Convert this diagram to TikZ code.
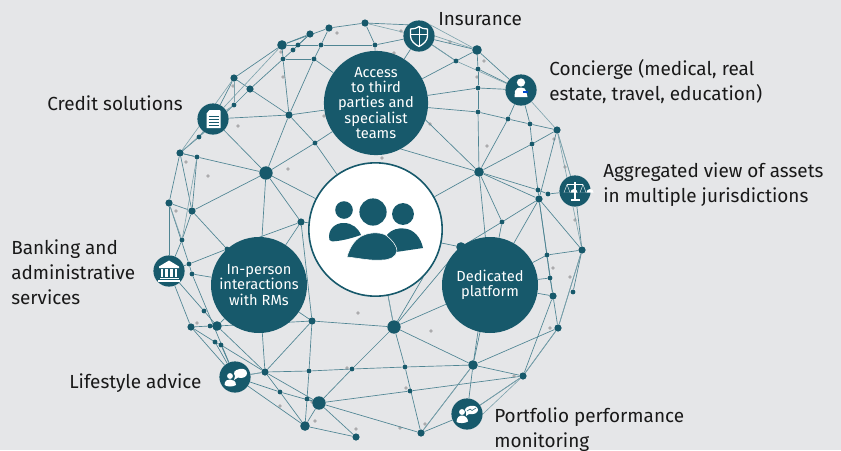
\documentclass[tikz,border=0pt]{standalone}
\usepackage{fontspec}
\setmainfont{Fira Sans}
\usetikzlibrary{backgrounds}
\definecolor{teal}{HTML}{17596B}
\definecolor{bgc}{HTML}{E5E6E8}
\definecolor{linkc}{HTML}{4F8593}
\definecolor{grayd}{HTML}{ABABAD}
\tikzset{
  x=0.75pt,y=-0.75pt,
  dotS/.style={circle,fill=teal,inner sep=0,minimum size=3.6pt},
  dotM/.style={circle,fill=teal,inner sep=0,minimum size=5.4pt},
  dotL/.style={circle,fill=teal,inner sep=0,minimum size=7.2pt},
  dotX/.style={circle,fill=teal,inner sep=0,minimum size=10pt},
  hub/.style={circle,fill=teal,text=white,inner sep=0,minimum size=72pt,align=center,font=\fontsize{11}{11.6}\selectfont},
  iconbg/.style={circle,fill=teal,inner sep=0,minimum size=23.4pt},
  link/.style={draw=linkc,line width=0.5pt},
  linkl/.style={draw=linkc!70!bgc,line width=0.45pt},
  lbl/.style={text=black!90,anchor=west,align=left,inner sep=0,font=\fontsize{14.2}{18.8}\selectfont},
  wln/.style={draw=white,line width=0.7pt},
}
\begin{document}
\begin{tikzpicture}
\useasboundingbox (0,0) rectangle (841,450);
% big circles and icons
\node[circle,fill=white,draw=teal,line width=1.2pt,inner sep=0,minimum size=100pt] (center) at (375.5,229.5) {};
\node[hub] (access) at (376,103) {Access\\to third\\parties and\\specialist\\teams};
\node[hub] (person) at (259,285) {In-person\\interactions\\with RMs};
\node[hub] (platform) at (490,285) {Dedicated\\platform};
\node[iconbg] (ins) at (419,36) {};
\node[iconbg] (cred) at (213,119) {};
\node[iconbg] (conc) at (521,90) {};
\node[iconbg] (scal) at (575,191) {};
\node[iconbg] (bank) at (169,271) {};
\node[iconbg] (life) at (235,377) {};
\node[iconbg] (port) at (467,414) {};
% dots
\foreach \n/\x/\y in {a1/310/34,a3/329/28,a4/365/23,a11/234/78,a12/250/89,a15/289/115,a17/180/153,a21/169/203,a22/192,211,a23/301/222}{}
\foreach \n/\x/\y in {a5/298/45,a6/321/45,a7/375/45,a8/293/50,a9/283/59,a10/314/59,a14/234/105,a16/199/137,a18/197/157,a19/315/143,
  b2/456/61,b3/478/69,b4/478/88,b5/478/112,b6/508/119,b7/530/124,b9/532/144,b11/538/190,b12/548/194,b14/502/222,
  c1/182/240,c2/227/249,c3/189/264,c4/192/274,c5/204/311,c7/210/326,c11/215/342,c12/221/345,c14/309/371,c15/352/369,c16/405/367,c17/280/392,c18/307/399,c20/410/391,
  d3/547/255,d4/550/278,d6/573/292}
  {\node[dotS] (\n) at (\x,\y) {};}
\foreach \n/\x/\y in {a1/310/34,a3/329/28,a11/234/78,a12/250/89,a21/169/203,a22/192/211,a23/301/222,a15/289/115,a17/180/153,
  b8/557/130,b13/539/199,c6/191/327,c9/312/321,c13/265/372,c22/356/437,c23/421/433,d2/582/250,d5/553/296,d7/558/328,d9/523/376,a4/365/23}
  {\node[dotM] (\n) at (\x,\y) {};}
\foreach \n/\x/\y in {a2/282/45,b1/477/50,b10/479/172,c8/217/326,c21/305/426,d1/461/247,d8/473/365}
  {\node[dotL] (\n) at (\x,\y) {};}
\foreach \n/\x/\y in {a20/266/173,c10/394/327,c19/319/403}
  {\node[dotX] (\n) at (\x,\y) {};}
% helper coordinates behind the big circles
\coordinate (acL) at (350,110);
\coordinate (acB) at (360,137);
\coordinate (acR) at (400,95);
\coordinate (acB2) at (405,90);
\coordinate (ceT) at (375,180);
\coordinate (peT) at (262,270);
\coordinate (peB) at (262,300);
\coordinate (plB) at (482,305);
\coordinate (plB2) at (490,300);
\begin{pgfonlayer}{background}
\fill[bgc] (0,0) rectangle (841,450);
% gray specks
\foreach \x/\y in {337/33,401/31,394/53,281/52,283/77,233/86,238/126,324/116,186/162,208/176,288/169,176/211,382/158,450/42,484/61,477/77,430/124,487/146,554/139,565/167,575/220,553/268,570/277,197/323,358/313,347/368,406/388,280/406,312/402,315/421,356/429,400/428,425/424,431/331,550/328,514/376}
  \fill[grayd] (\x,\y) circle (1.4pt);
% links
\foreach \p/\q in {a2/a1,a2/a5,a5/a1,a2/a6,a6/a7,a7/ins,a8/a1,a9/a8,a8/a5,a3/a6,a6/a10,a10/a15,a3/a4,a3/a2,a4/a7,a7/access,a2/a9,a9/a15,a9/a10,a10/access,a2/a11,a11/cred,a11/a12,a12/a15,a12/a9,a12/a14,a14/a16,a15/cred,a15/access,a15/a19,a15/a20,a19/a20,a19/access,a19/center,a20/center,a20/cred,a20/a18,a18/a17,a20/a22,a20/a23,a20/person,a17/a18,a18/a22,a17/a22,a17/a21,a21/a22,a21/bank,a21/c3,a22/c1,c1/bank,a22/c2,a23/c2,a23/person,a23/center,a23/c9,c2/c3,c3/c4,c3/bank,c4/person,cred/a16,a16/a17,
  ins/access,ins/b1,ins/b2,b1/b2,b2/access,b1/b3,b3/b4,b4/b5,b5/b10,b3/conc,b4/conc,b4/access,b1/conc,conc/b6,conc/b7,access/b5,b5/b6,b6/b7,b7/b8,b6/b10,b8/b9,b9/b10,b7/b9,b9/b13,b8/b13,b10/b11,b11/b12,b12/scal,b10/b13,b10/center,b10/acB,b10/acR,b10/platform,b10/b14,b13/b14,b14/d1,b14/platform,b13/platform,b13/d3,d3/d2,d3/platform,scal/d2,b13/d2,b13/d4,d2/d6,d2/d7,d3/d5,d4/d5,d4/platform,d5/d7,d5/platform,d5/d9,d7/d8,d7/d9,d8/d9,d8/port,d8/c23,d8/c10,d8/platform,d8/plB,d1/center,d1/c10,c10/platform,c10/c15,c15/c19,c10/c9,c10/center,c10/c16,c16/c23,c16/d8,c20/d9,c19/c20,d9/port,c23/port,
  c9/c8,c9/c13,c9/c14,c9/person,c14/c15,c15/c16,c13/c14,c19/c17,c17/life,c14/c18,c18/c21,c13/c17,c17/c21,c18/c19,c19/c21,c19/c22,c19/c23,c21/c22,life/c21,life/c13,c13/c19,c13/person,c8/c13,c6/c7,c7/c8,c6/c11,c11/c12,c12/c13,c6/life,c11/life,c12/life,bank/c5,c5/c8,bank/c6,c4/life,c8/person}
  \draw[link] (\p) -- (\q);
\foreach \p/\q in {a2/cred,a17/a11,a11/a14,a14/cred,a17/a14,a4/ins,ins/b2,b2/conc,conc/b8,b8/scal,b8/d2,d2/d7,d7/d9,d9/port,scal/b8,c23/d8,c10/center,c13/life,a21/c1,a18/c1}
  \draw[linkl] (\p) -- (\q);
\draw[link] (a4) -- (ins.north west);
\draw[linkl] (b1) -- (ins.north east);
\draw[linkl] (b1) -- (ins.east);
\draw[linkl] (d9) -- (port.east);
\draw[link] (center.south east) -- (c10);
\end{pgfonlayer}
% central people icon
\fill[teal] (344,210) circle (6.6pt);
\fill[teal] (373,212) circle (10.2pt);
\fill[teal] (403,214) circle (8.2pt);
\fill[teal] (329.5,240) .. controls (327,230) and (335,222.5) .. (344,223) .. controls (352,223) and (358,228) .. (361,235) .. controls (352,238) and (345,240) .. (337,241) .. controls (333,241.5) and (330,241.5) .. (329.5,240) -- cycle;
\fill[teal] (387,235) .. controls (392,229) and (398,228) .. (404,228.5) .. controls (414,229) and (421,238) .. (423,248) -- (396,252) -- cycle;
\filldraw[fill=teal,draw=white,line width=0.4pt] (347,257) .. controls (350,246) and (356,238) .. (364,235) .. controls (371,232) and (382,232) .. (387,236) .. controls (392,240) and (397,246) .. (397,251) .. controls (396,257) and (390,260) .. (382,260) .. controls (370,261) and (358,258) .. (347,257) -- cycle;
% shield
\begin{scope}[shift={(419,36)}]
\draw[white,line width=0.95pt,line join=round] (0,-9.5) .. controls (3,-7.5) and (6,-7) .. (8.5,-7) -- (8.5,0) .. controls (8.5,5) and (4,8.5) .. (0,10.5) .. controls (-4,8.5) and (-8.5,5) .. (-8.5,0) -- (-8.5,-7) .. controls (-6,-7) and (-3,-7.5) .. cycle;
\draw[white,line width=0.6pt] (-8,-1.5) -- (8,-1.5) (0,-9) -- (0,10);
\end{scope}
% document
\begin{scope}[shift={(213,119)}]
\fill[white] (-3.5,-9) -- (6.5,-9) -- (7.5,-8) -- (7.5,9) -- (-6.5,9) -- (-6.5,-5.5) -- cycle;
\foreach \yy in {-3,0,3,6} \draw[teal,line width=0.5pt] (-4.5,\yy) -- (5.5,\yy);
\end{scope}
% person
\begin{scope}[shift={(521,90)}]
\fill[white] (0,-7.5) circle (3.1pt);
\fill[white] (-6.5,7) -- (-6,1) .. controls (-5.5,-2) and (-2,-2.5) .. (0,-2.5) .. controls (3,-2.5) and (5,-1) .. (5,1) -- (6.5,7) -- cycle;
\fill[blue!65!cyan!80!black] (2,0.8) rectangle (7,3);
\end{scope}
% scales
\begin{scope}[shift={(575,191)}]
\draw[white,line width=0.8pt] (0,-9) -- (0,8) (-4.5,9) -- (4.5,9) (-8,-6.5) -- (8,-6.5);
\draw[white,line width=0.3pt] (-8,-6.5) -- (-11,1.5) (-8,-6.5) -- (-5,1.5) (8,-6.5) -- (5,1.5) (8,-6.5) -- (11,1.5);
\fill[white] (-11.5,1.5) -- (-4.5,1.5) arc (0:180:-3.5 and -3.5) -- cycle;
\fill[white] (4.5,1.5) -- (11.5,1.5) arc (0:180:-3.5 and -3.5) -- cycle;
\end{scope}
% bank
\begin{scope}[shift={(169,271)}]
\fill[white] (0,-10.5) -- (10,-4.5) -- (10,-3) -- (-10,-3) -- (-10,-4.5) -- cycle;
\foreach \xx in {-7,-2.5,2.5,7} \fill[white] (\xx-1.2,-2) rectangle (\xx+1.2,6);
\fill[white] (-9.5,6.5) rectangle (9.5,8);
\fill[white] (-11,9) rectangle (11,10.5);
\end{scope}
% lifestyle
\begin{scope}[shift={(235,377)}]
\fill[white] (-5,-1) circle (2.2pt);
\fill[white] (-10.5,8) .. controls (-10.5,3) and (-7,2.5) .. (-5,2.5) .. controls (-2,2.5) and (1,4) .. (1,8) .. controls (-2,10) and (-8,10) .. (-10.5,8) -- cycle;
\fill[white] (4.5,-8) .. controls (9,-9) and (12,-7) .. (12,-3.5) .. controls (12,0) and (7,2) .. (3,0.5) -- (-1,3) -- (0,-1) .. controls (-2,-4) and (-1,-7) .. (4.5,-8) -- cycle;
\end{scope}
% portfolio
\begin{scope}[shift={(467,414)}]
\fill[white] (-5,-2) circle (2.2pt);
\fill[white] (-10.5,8) .. controls (-10.5,3) and (-7,1.5) .. (-5,1.5) .. controls (-2,1.5) and (1,4) .. (1,7.5) .. controls (-2,9.5) and (-8,9.5) .. (-10.5,8) -- cycle;
\fill[white] (3,-8) .. controls (8,-9) and (11,-7) .. (11,-4) .. controls (11,-1) and (6,1) .. (2,0) -- (-1,2) -- (-1,-2) .. controls (-3,-4) and (-2,-7) .. (3,-8) -- cycle;
\draw[teal,line width=0.4pt] (0,-3) -- (3,-5) -- (5,-3.5) -- (9,-6);
\end{scope}
% labels
\node[lbl] (tIns) at (438,19) {Insurance};
\node[lbl] (tConc) at (549,81.5) {Concierge (medical, real\\estate, travel, education)};
\node[lbl] (tCred) at (47,103) {Credit solutions};
\node[lbl] (tAgg) at (603,185) {Aggregated view of assets\\in multiple jurisdictions};
\node[lbl] (tBank) at (11,272) {Banking and\\administrative\\services};
\node[lbl] (tLife) at (69,383) {Lifestyle advice};
\node[lbl] (tPort) at (494,430) {Portfolio performance\\monitoring};
\end{tikzpicture}
\end{document}
